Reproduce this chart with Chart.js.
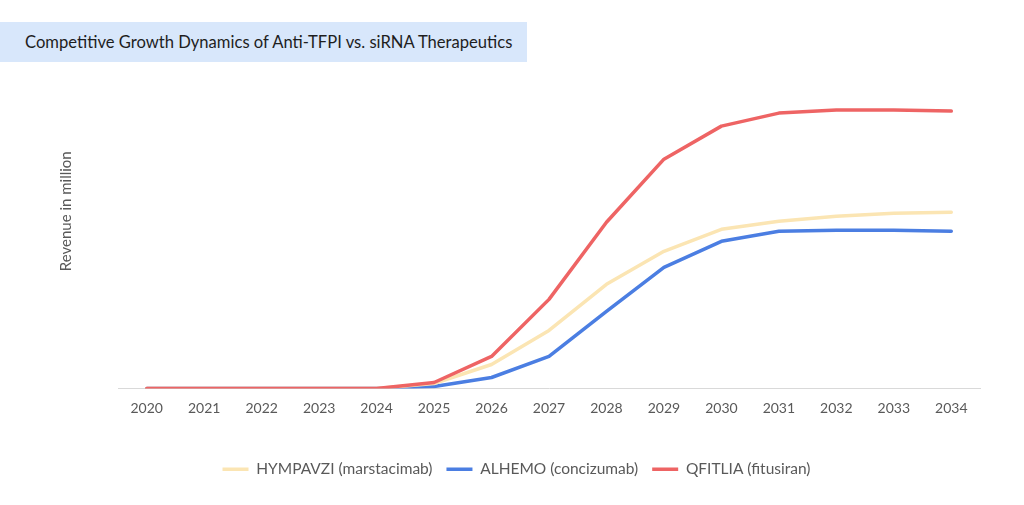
<!DOCTYPE html>
<html>
<head>
<meta charset="utf-8">
<script src="https://cdn.jsdelivr.net/npm/chart.js@4"></script>
<style>
  html, body { margin: 0; padding: 0; background: #fff; }
  #wrap { position: relative; width: 1024px; height: 505px; }
  #title {
    position: absolute; left: 0; top: 22px; width: 502px; height: 40px;
    padding-left: 25px; background: #d8e7fb;
    font-family: Lato, sans-serif; font-size: 16.6px; line-height: 40px; color: #1e1e1e;
  }
  canvas { position: absolute; left: 0; top: 0; }
</style>
</head>
<body>
<div id="wrap">
  <canvas id="growthChart" width="1024" height="505"></canvas>
  <div id="title">Competitive Growth Dynamics of Anti-TFPI vs. siRNA Therapeutics</div>
</div>
<script>
const years = ["2020","2021","2022","2023","2024","2025","2026","2027","2028","2029","2030","2031","2032","2033","2034"];
const hympavzi = [0, 0, 0, 0, 0, 5, 24, 58, 104, 137, 159, 167, 172, 175, 176];
const alhemo   = [0, 0, 0, 0, 0, 2, 11, 32, 77, 121, 147, 157, 158, 158, 157];
const qfitlia  = [0, 0, 0, 0, 0, 6, 32, 89, 166, 229, 262, 275, 278, 278, 277];

const growthChart = new Chart(
    document.getElementById("growthChart"),
    {
        type: "line",
        data: {
            labels: years,
            datasets: [
                { label: "HYMPAVZI (marstacimab)", data: hympavzi, borderColor: "#fbe5b3", order: 1 },
                { label: "ALHEMO (concizumab)", data: alhemo, borderColor: "#4b7ee2", order: 2 },
                { label: "QFITLIA (fitusiran)", data: qfitlia, borderColor: "#ee6464", order: 0 }
            ]
        },
        options: {
            responsive: false,
            animation: false,
            devicePixelRatio: 1,
            datasets: {
                line: { borderWidth: 3.5, tension: 0, fill: false, pointRadius: 0, borderCapStyle: "round", borderJoinStyle: "round" }
            },
            layout: { padding: { left: 53, right: 44, top: 34, bottom: 18 } },
            scales: {
                x: {
                    offset: true,
                    grid: { display: false },
                    border: { display: true, color: "#d9d9d9", width: 1 },
                    ticks: { color: "#595959", font: { family: "Lato", size: 14 }, padding: 4, maxRotation: 0 },
                    afterFit: s => { s.height = 59; }
                },
                y: {
                    min: 0, max: 354,
                    grid: { display: false },
                    border: { display: false },
                    ticks: { display: false },
                    title: { display: true, text: "Revenue in million", color: "#595959", font: { family: "Lato", size: 15 }, padding: 4 },
                    afterFit: s => { s.width = 65; }
                }
            },
            plugins: {
                legend: {
                    position: "bottom",
                    labels: {
                        usePointStyle: true, pointStyle: "line", pointStyleWidth: 26, boxHeight: 13,
                        color: "#595959", font: { family: "Lato", size: 15.5 }, padding: 14,
                        sort: (a, b) => a.datasetIndex - b.datasetIndex
                    }
                },
                tooltip: { enabled: false }
            }
        }
    }
);
</script>
</body>
</html>
